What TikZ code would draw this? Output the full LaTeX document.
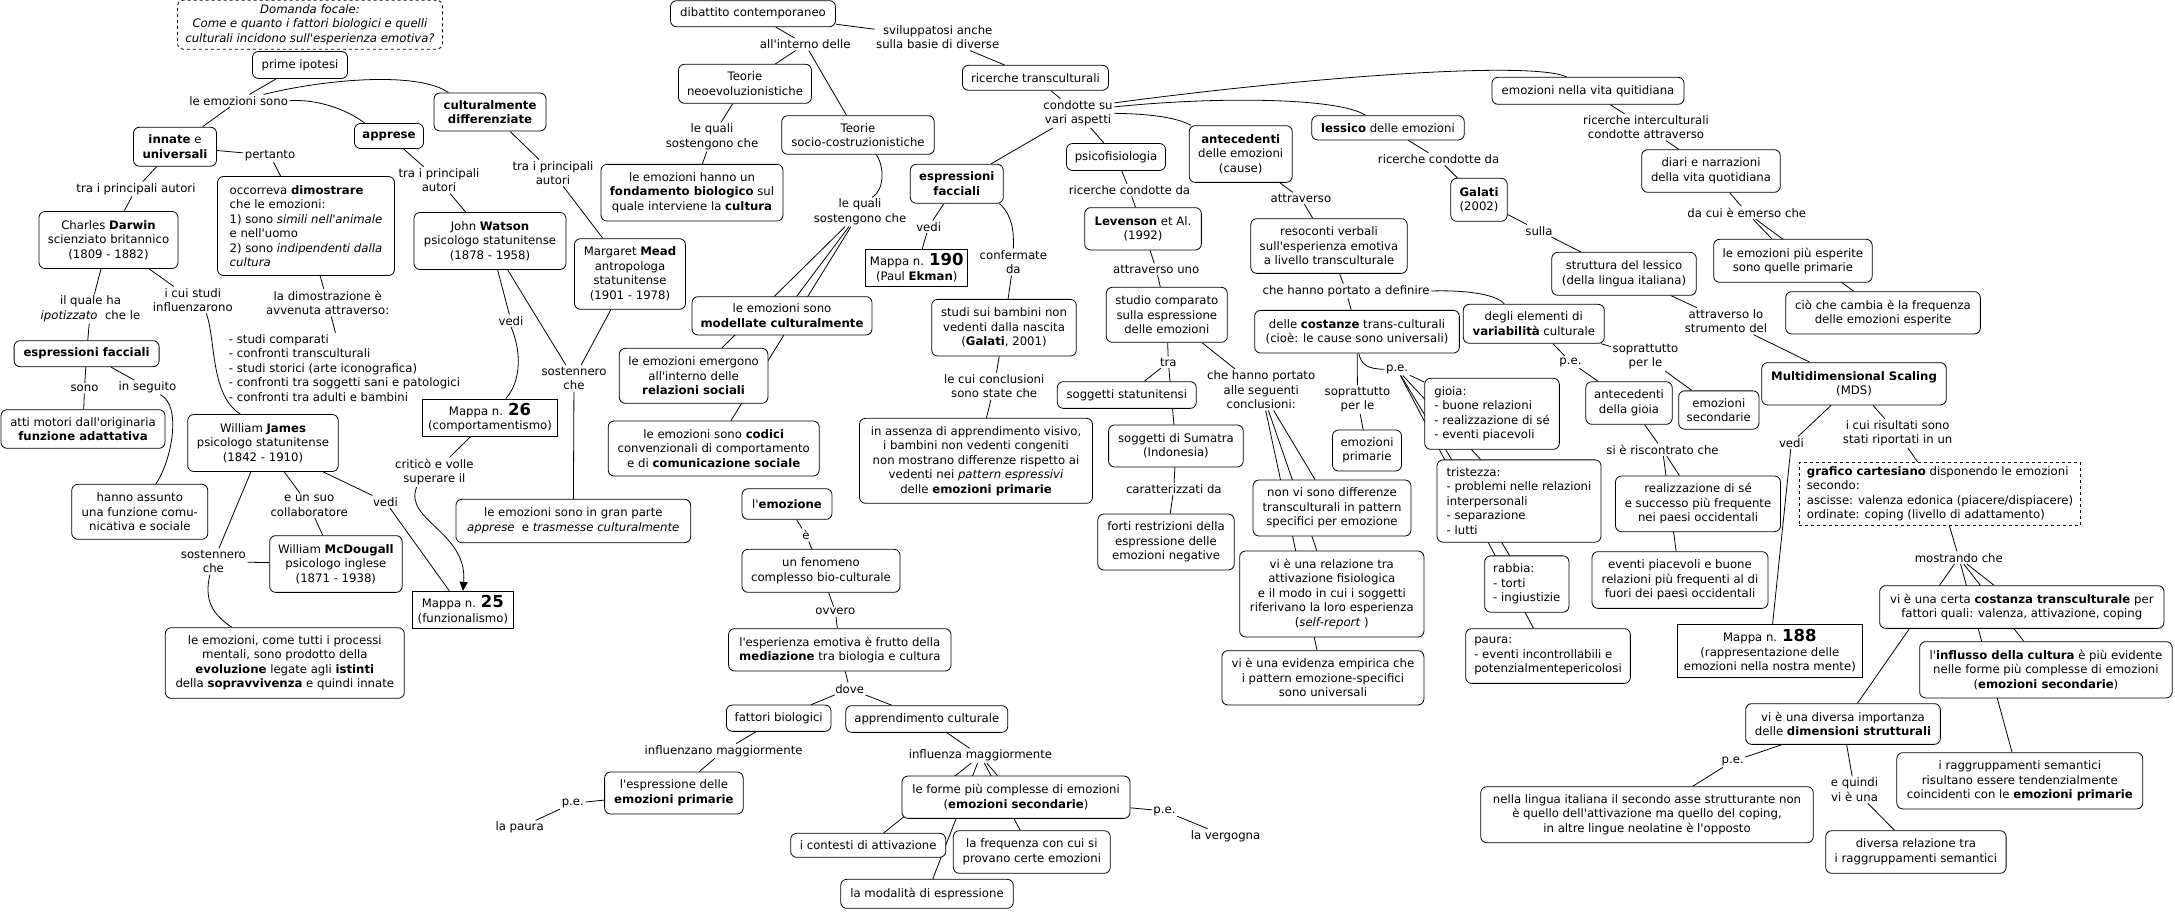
\documentclass[tikz,border=0pt]{standalone}
\usepackage{fontspec}
\setmainfont{DejaVu Sans}[Ligatures=TeXOff]
\usetikzlibrary{arrows.meta}
\pgfdeclarelayer{bgfill}
\pgfdeclarelayer{edges}
\pgfsetlayers{bgfill,edges,main}
\newcommand{\mapnum}[1]{{\fontsize{16.5}{14.5}\selectfont\bfseries #1}}
\tikzset{
  fnt/.style={font=\fontsize{11.7}{14.5}\selectfont},
  itl/.style={font=\fontsize{11.7}{14.5}\selectfont\itshape},
  sz/.style 2 args={minimum width=#1pt, minimum height=#2pt},
  cpt/.style={draw, rounded corners=6pt, fill=white, align=center, inner xsep=3pt, inner ysep=2pt, line width=0.8pt},
  cptl/.style={cpt, align=left},
  mapbox/.style={draw, fill=white, align=center, inner xsep=3pt, inner ysep=2pt, line width=0.8pt},
  lab/.style={align=center, inner xsep=1.5pt, inner ysep=1.5pt},
}
\begin{document}
\begin{tikzpicture}[x=1pt,y=-1pt,fnt]
\useasboundingbox (0,0) rectangle (2175,911);
\begin{pgfonlayer}{bgfill}
\fill[white] (0,0) rectangle (2175,911);
\end{pgfonlayer}

% ---------------- left cluster
\node[cpt,dashed,itl,sz={265}{49}] (domanda) at (310,24.7) {Domanda focale:\\Come e quanto i fattori biologici e quelli\\culturali incidono sull'esperienza emotiva?};
\node[cpt,sz={95}{27}] (prime) at (300,65) {prime ipotesi};
\node[lab] (Lsono) at (238.6,100.7) {le emozioni sono};
\node[cpt,sz={83}{39}] (innate) at (175,146.7) {\textbf{innate} e\\\textbf{universali}};
\node[cpt,sz={69}{25}] (apprese) at (389,136) {\textbf{apprese}};
\node[cpt,sz={112}{38}] (cultdiff) at (490,112) {\textbf{culturalmente}\\\textbf{differenziate}};
\node[lab] (Lpertanto) at (270,155.3) {pertanto};
\node[lab] (Ltra1) at (136,189) {tra i principali autori};
\node[lab] (Ltra2) at (439,180.3) {tra i principali\\autori};
\node[lab] (Ltra3) at (553,173) {tra i principali\\autori};
\node[cptl,sz={177}{99}] (occorreva) at (306,226) {occorreva \textbf{dimostrare}\\che le emozioni:\\1) sono \textit{simili nell'animale}\\e nell'uomo\\2) sono \textit{indipendenti dalla}\\\textit{cultura}};
\node[cpt,sz={139}{57}] (darwin) at (108.5,240) {Charles \textbf{Darwin}\\scienziato britannico\\(1809 - 1882)};
\node[cpt,sz={152}{57}] (watson) at (490,241) {John \textbf{Watson}\\psicologo statunitense\\(1878 - 1958)};
\node[cpt,sz={111}{70.6}] (mead) at (630,274) {Margaret \textbf{Mead}\\antropologa\\statunitense\\(1901 - 1978)};
\node[lab] (Lilquale) at (90.5,309) {il quale ha\\\textit{ipotizzato}~ che le};
\node[lab] (Licui) at (192.8,300) {i cui studi\\influenzarono};
\node[lab] (Ldimostr) at (327.7,302.7) {la dimostrazione è\\avvenuta attraverso:};
\node[lab,align=left] (list) at (344.5,368) {- studi comparati\\- confronti transculturali\\- studi storici (arte iconografica)\\- confronti tra soggetti sani e patologici\\- confronti tra adulti e bambini};
\node[cpt,sz={145}{26}] (espf1) at (86.6,353.7) {\textbf{espressioni facciali}};
\node[lab] (Lsono2) at (84.5,388.3) {sono};
\node[lab] (Linseguito) at (147.5,387.3) {in seguito};
\node[cpt,sz={164}{38.6}] (atti) at (83,429) {atti motori dall'originaria\\\textbf{funzione adattativa}};
\node[lab] (Lvedi1) at (511,320.7) {vedi};
\node[lab] (Lsost1) at (574,378.3) {sostennero\\che};
\node[mapbox,sz={135}{37}] (mappa26) at (490,417.5) {Mappa n. \mapnum{26}\\(comportamentismo)};
\node[cpt,sz={150.5}{57}] (james) at (263,443) {William \textbf{James}\\psicologo statunitense\\(1842 - 1910)};
\node[cpt,sz={136}{55}] (hanno) at (139.8,511.8) {hanno assunto\\una funzione comu-\\nicativa e sociale};
\node[lab] (Lcollab) at (309.2,505.8) {e un suo\\collaboratore};
\node[lab] (Lvedi2) at (385.4,501.7) {vedi};
\node[lab] (Lcritico) at (434.4,472.2) {criticò e volle\\superare il};
\node[lab] (Lsost2) at (213.4,561.5) {sostennero\\che};
\node[cpt,sz={132.5}{56.7}] (mcdougall) at (335.9,564) {William \textbf{McDougall}\\psicologo inglese\\(1871 - 1938)};
\node[mapbox,sz={100.7}{37}] (mappa25) at (462.9,609.8) {Mappa n. \mapnum{25}\\(funzionalismo)};
\node[cpt,sz={239}{70.6}] (evoluz) at (284.8,663) {le emozioni, come tutti i processi\\mentali, sono prodotto della\\\textbf{evoluzione} legate agli \textbf{istinti}\\della \textbf{sopravvivenza} e quindi innate};
\node[cpt,sz={234.7}{43.4}] (inparte) at (573.3,521) {le emozioni sono in gran parte\\\textit{apprese}~ e \textit{trasmesse culturalmente}};
\node[lab] (paurat) at (519.6,827.7) {la paura};

% ---------------- middle cluster
\node[cpt,sz={165}{26}] (dibattito) at (753,13.7) {dibattito contemporaneo};
\node[lab] (Lallint) at (805.2,44.3) {all'interno delle};
\node[lab] (Lsvil) at (937.7,37.2) {sviluppatosi anche\\sulla basie di diverse};
\node[cpt,sz={133}{39}] (neo) at (745,83.8) {Teorie\\neoevoluzionistiche};
\node[cpt,sz={152.5}{38.6}] (socio) at (858,135) {Teorie\\socio-costruzionistiche};
\node[cpt,sz={146}{25}] (rictrans) at (1035.5,77.8) {ricerche transculturali};
\node[lab] (Lquali1) at (712,137) {le quali\\sostengono che};
\node[cpt,sz={182}{56.7}] (fondamento) at (692,192.7) {le emozioni hanno un\\\textbf{fondamento biologico} sul\\quale interviene la \textbf{cultura}};
\node[lab] (Lquali2) at (860,212) {le quali\\sostengono che};
\node[cpt,sz={180}{38.3}] (modellate) at (782,315.8) {le emozioni sono\\\textbf{modellate culturalmente}};
\node[cpt,sz={148.6}{55}] (emergono) at (693.6,375.8) {le emozioni emergono\\all'interno delle\\\textbf{relazioni sociali}};
\node[cpt,sz={211}{55}] (codici) at (713.7,448.5) {le emozioni sono \textbf{codici}\\convenzionali di comportamento\\e di \textbf{comunicazione sociale}};
\node[lab] (Lcondotte) at (1078,113.3) {condotte su\\vari aspetti};
\node[cpt,sz={93}{39}] (espf2) at (956.8,183.8) {\textbf{espressioni}\\\textbf{facciali}};
\node[lab] (Lvedi3) at (928.7,226.7) {vedi};
\node[mapbox,sz={102}{36.7}] (mappa190) at (916.7,267.7) {Mappa n. \mapnum{190}\\(Paul \textbf{Ekman})};
\node[lab] (Lconf) at (1013.3,262.2) {confermate\\da};
\node[cpt,sz={144.6}{56.7}] (bambini) at (1004,327.7) {studi sui bambini non\\vedenti dalla nascita\\(\textbf{Galati}, 2001)};
\node[lab] (Lcui) at (994.2,386.2) {le cui conclusioni\\sono state che};
\node[cpt,sz={233}{85}] (assenza) at (976,460.8) {in assenza di apprendimento visivo,\\i bambini non vedenti congeniti\\non mostrano differenze rispetto ai\\vedenti nei \textit{pattern espressivi}\\delle \textbf{emozioni primarie}};
\node[cpt,sz={99}{27}] (psico) at (1116,157) {psicofisiologia};
\node[lab] (Lric1) at (1129.5,190) {ricerche condotte da};
\node[cpt,sz={116.7}{42.3}] (levenson) at (1143,228.8) {\textbf{Levenson} et Al.\\(1992)};
\node[lab] (Lattuno) at (1156.2,269.3) {attraverso uno};
\node[cpt,sz={121}{55}] (studio) at (1166.8,314.8) {studio comparato\\sulla espressione\\delle emozioni};
\node[lab] (Ltra4) at (1168.3,362.3) {tra};
\node[cpt,sz={139}{26.7}] (statunitensi) at (1126.8,395) {soggetti statunitensi};
\node[cpt,sz={134.6}{42}] (sumatra) at (1175.9,446) {soggetti di Sumatra\\(Indonesia)};
\node[lab] (Lcaratt) at (1173.8,489) {caratterizzati da};
\node[cpt,sz={136.4}{56}] (forti) at (1166,542) {forti restrizioni della\\espressione delle\\emozioni negative};
\node[lab] (Lchehanno) at (1261.2,389.7) {che hanno portato\\alle seguenti\\conclusioni:};

% ---------------- lower middle
\node[cpt,sz={90}{30.6}] (emozione) at (787,504) {l'\textbf{emozione}};
\node[lab] (Le) at (806,535) {è};
\node[cpt,sz={158}{43}] (fenomeno) at (821,570.8) {un fenomeno\\complesso bio-culturale};
\node[lab] (Lovvero) at (835.4,611.7) {ovvero};
\node[cpt,sz={222.5}{42.3}] (esperienza) at (839.8,649.8) {l'esperienza emotiva è frutto della\\\textbf{mediazione} tra biologia e cultura};
\node[lab] (Ldove) at (849.6,688.7) {dove};
\node[cpt,sz={104.6}{26.3}] (fattori) at (778.7,718.2) {fattori biologici};
\node[cpt,sz={162}{26.7}] (apprend) at (926.8,719) {apprendimento culturale};
\node[lab] (Linfluenzano) at (723.6,751) {influenzano maggiormente};
\node[lab] (Linfluenza) at (980.4,755.7) {influenza maggiormente};
\node[cpt,sz={138.6}{42}] (espressione) at (673.9,793) {l'espressione delle\\\textbf{emozioni primarie}};
\node[lab] (Lpe4) at (572.8,803.3) {p.e.};
\node[cpt,sz={228}{42.3}] (forme) at (1016,797.2) {le forme più complesse di emozioni\\(\textbf{emozioni secondarie})};
\node[lab] (Lpe5) at (1164.5,811) {p.e.};
\node[lab] (vergogna) at (1225.5,836) {la vergogna};
\node[cpt,sz={155}{24}] (contesti) at (868.2,845.3) {i contesti di attivazione};
\node[cpt,sz={157}{42.6}] (frequenza) at (1031.8,852) {la frequenza con cui si\\provano certe emozioni};
\node[cpt,sz={172.5}{29}] (modalita) at (927,893.8) {la modalità di espressione};

% ---------------- right-middle cluster
\node[cpt,sz={103}{56.7}] (antecedenti) at (1240.7,154) {\textbf{antecedenti}\\delle emozioni\\(cause)};
\node[cpt,sz={152.5}{24.3}] (lessico) at (1388,127.8) {\textbf{lessico} delle emozioni};
\node[cpt,sz={192}{27}] (emozvita) at (1588,90.8) {emozioni nella vita quitidiana};
\node[lab] (Lric2) at (1438.6,159) {ricerche condotte da};
\node[cpt,sz={56.4}{43}] (galati) at (1479,199.8) {\textbf{Galati}\\(2002)};
\node[lab] (Lattrav) at (1300.9,198.3) {attraverso};
\node[cpt,sz={156.4}{54.7}] (resoconti) at (1329,246) {resoconti verbali\\sull'esperienza emotiva\\a livello transculturale};
\node[lab] (Lsulla) at (1539,230.7) {sulla};
\node[cpt,sz={144.4}{43}] (struttura) at (1624,273.8) {struttura del lessico\\(della lingua italiana)};
\node[lab] (Ldefinire) at (1346.1,291) {che hanno portato a definire};
\node[cpt,sz={204.7}{42.7}] (costanze) at (1357,331.7) {delle \textbf{costanze} trans-culturali\\(cioè: le cause sono universali)};
\node[cpt,sz={141}{39}] (variab) at (1533.8,323.8) {degli elementi di\\\textbf{variabilità} culturale};
\node[lab] (Lpe1) at (1397.1,369.3) {p.e.};
\node[lab] (Lsopr1) at (1357.5,399.7) {soprattutto\\per le};
\node[cpt,sz={69}{41}] (emoprim) at (1367,450.5) {emozioni\\primarie};
\node[cptl,sz={134.7}{71}] (gioia) at (1492,413.8) {gioia:\\- buone relazioni\\- realizzazione di sé\\- eventi piacevoli};
\node[cptl,sz={164}{82.3}] (tristezza) at (1519,501) {tristezza:\\- problemi nelle relazioni\\interpersonali\\- separazione\\- lutti};
\node[cptl,sz={84.3}{56.3}] (rabbia) at (1526.8,584) {rabbia:\\- torti\\- ingiustizie};
\node[cptl,sz={164.7}{54.7}] (paura) at (1548,656) {paura:\\- eventi incontrollabili e\\potenzialmentepericolosi};
\node[cpt,sz={158}{56}] (nonvi) at (1332,508) {non vi sono differenze\\transculturali in pattern\\specifici per emozione};
\node[cpt,sz={184.3}{86}] (relazione) at (1331.8,594) {vi è una relazione tra\\attivazione fisiologica\\e il modo in cui i soggetti\\riferivano la loro esperienza\\(\textit{self-report} )};
\node[cpt,sz={202}{54.3}] (evidenza) at (1322.9,677.8) {vi è una evidenza empirica che\\i pattern emozione-specifici\\sono universali};
\node[lab] (Lpe2) at (1570.5,362) {p.e.};
\node[lab] (Lsopr2) at (1645.5,356.8) {soprattutto\\per le};
\node[cpt,sz={86.4}{42.6}] (antgioia) at (1629,403) {antecedenti\\della gioia};
\node[cpt,sz={80.3}{38.3}] (emosec) at (1718.8,410) {emozioni\\secondarie};
\node[lab] (Lrisc) at (1662.5,449.7) {si è riscontrato che};
\node[cpt,sz={165}{55.7}] (realizz) at (1698,503.8) {realizzazione di sé\\e successo più frequente\\nei paesi occidentali};
\node[cpt,sz={176}{56.7}] (eventi) at (1680,580) {eventi piacevoli e buone\\relazioni più frequenti al di\\fuori dei paesi occidentali};

% ---------------- right cluster
\node[lab] (Lricint) at (1646,127.2) {ricerche interculturali\\condotte attraverso};
\node[cpt,sz={138.6}{42.6}] (diari) at (1711,171) {diari e narrazioni\\della vita quotidiana};
\node[lab] (Lemerso) at (1746.8,212.7) {da cui è emerso che};
\node[cpt,sz={158.5}{43}] (piuesp) at (1792.9,260.8) {le emozioni più esperite\\sono quelle primarie};
\node[cpt,sz={194.7}{42.3}] (ciocambia) at (1883,312.8) {ciò che cambia è la frequenza\\delle emozioni esperite};
\node[lab] (Lattrlo) at (1726,321.2) {attraverso lo\\strumento del};
\node[cpt,sz={184.6}{42.3}] (mds) at (1854,383.8) {\textbf{Multidimensional Scaling}\\(MDS)};
\node[lab] (Lrisult) at (1897.6,433.3) {i cui risultati sono\\stati riportati in un};
\node[lab] (Lvedi4) at (1791.4,442.7) {vedi};
\node[cptl,dashed,rounded corners=0pt,sz={281.4}{62.7}] (grafico) at (1940,494) {\textbf{grafico cartesiano} disponendo le emozioni\\secondo:\\ascisse: valenza edonica (piacere/dispiacere)\\ordinate: coping (livello di adattamento)};
\node[lab] (Lmostr) at (1958.8,557.7) {mostrando che};
\node[cpt,sz={284.3}{42.7}] (costanza) at (2021.8,607) {vi è una certa \textbf{costanza transculturale} per\\fattori quali: valenza, attivazione, coping};
\node[mapbox,sz={184.6}{53}] (mappa188) at (1769.8,650.8) {Mappa n. \mapnum{188}\\(rappresentazione delle\\emozioni nella nostra mente)};
\node[cpt,sz={252.5}{56.3}] (influsso) at (2045.9,669.8) {l'\textbf{influsso della cultura} è più evidente\\nelle forme più complesse di emozioni\\(\textbf{emozioni secondarie})};
\node[cpt,sz={194.7}{40.7}] (diversaimp) at (1843,724) {vi è una diversa importanza\\delle \textbf{dimensioni strutturali}};
\node[cpt,sz={246}{56.3}] (raggrupp) at (2019.8,780.8) {i raggruppamenti semantici\\risultano essere tendenzialmente\\coincidenti con le \textbf{emozioni primarie}};
\node[lab] (Lpe3) at (1732.7,761.3) {p.e.};
\node[lab] (Lequindi) at (1854.5,789.8) {e quindi\\vi è una};
\node[cpt,sz={332.5}{56}] (nellalingua) at (1647,814.7) {nella lingua italiana il secondo asse strutturante non\\è quello dell'attivazione ma quello del coping,\\in altre lingue neolatine è l'opposto};
\node[cpt,sz={180.4}{42.6}] (diversarel) at (1915.9,852) {diversa relazione tra\\i raggruppamenti semantici};

% ---------------- connectors
\begin{pgfonlayer}{edges}
\begin{scope}[line width=0.8pt]
\draw (prime) -- (Lsono);
\draw (Lsono) -- (innate);
\draw (Lsono.east) .. controls (315,99) and (345,108) .. (apprese.152);
\draw (Lsono.14) .. controls (330,78) and (420,72) .. (cultdiff.155);
\draw (innate) -- (Lpertanto); \draw (Lpertanto) -- (occorreva);
\draw (innate) -- (Ltra1); \draw (Ltra1) -- (darwin);
\draw (apprese) -- (Ltra2); \draw (Ltra2) -- (watson);
\draw (cultdiff) -- (Ltra3); \draw (Ltra3) -- (mead);
\draw (darwin) -- (Lilquale); \draw (Lilquale) -- (espf1);
\draw (darwin) -- (Licui);
\draw (Licui.-45) .. controls (216,340) and (210,395) .. (james.128);
\draw (occorreva) -- (Ldimostr); \draw (Ldimostr) -- (list);
\draw (espf1) -- (Lsono2); \draw (Lsono2) -- (atti);
\draw (espf1) -- (Linseguito);
\draw (Linseguito.-30) .. controls (182,405) and (172,460) .. (hanno.60);
\draw (watson) -- (Lvedi1);
\draw (Lvedi1.south) .. controls (521,350) and (522,380) .. (mappa26.50);
\draw (watson) -- (Lsost1); \draw (mead) -- (Lsost1); \draw (Lsost1) -- (inparte);
\draw (mappa26) -- (Lcritico);
\draw[-{Triangle[length=9pt,width=8pt]}] (Lcritico.220) .. controls (403,520) and (468,532) .. (mappa25.north);
\draw (james) -- (Lcollab); \draw (Lcollab) -- (mcdougall);
\draw (james) -- (Lvedi2); \draw (Lvedi2) -- (mappa25);
\draw (james) -- (Lsost2); \draw (mcdougall) -- (Lsost2);
\draw (Lsost2.-105) .. controls (204,600) and (212,614) .. (evoluz.146);

\draw (dibattito) -- (Lallint); \draw (Lallint) -- (neo); \draw (Lallint) -- (socio);
\draw (dibattito) -- (Lsvil); \draw (Lsvil) -- (rictrans);
\draw (neo) -- (Lquali1); \draw (Lquali1) -- (fondamento);
\draw (socio.-47) .. controls (885,168) and (884,190) .. (Lquali2.50);
\draw (Lquali2) -- (modellate); \draw (Lquali2) -- (emergono); \draw (Lquali2) -- (codici);
\draw (rictrans) -- (Lcondotte);
\draw (Lcondotte) -- (espf2); \draw (Lcondotte) -- (psico);
\draw (Lcondotte.east) .. controls (1150,114) and (1175,117) .. (antecedenti.150);
\draw (Lcondotte.10) .. controls (1220,96) and (1340,98) .. (lessico.151);
\draw (Lcondotte.16) .. controls (1300,78) and (1530,60) .. (emozvita.147);
\draw (espf2) -- (Lvedi3); \draw (Lvedi3) -- (mappa190);
\draw (espf2.-25) .. controls (1012,215) and (1014,230) .. (Lconf.north);
\draw (Lconf) -- (bambini);
\draw (bambini) -- (Lcui); \draw (Lcui) -- (assenza);
\draw (psico) -- (Lric1); \draw (Lric1) -- (levenson);
\draw (levenson) -- (Lattuno); \draw (Lattuno) -- (studio);
\draw (studio) -- (Ltra4); \draw (Ltra4) -- (statunitensi); \draw (Ltra4) -- (sumatra);
\draw (sumatra) -- (Lcaratt); \draw (Lcaratt) -- (forti);
\draw (studio) -- (Lchehanno);
\draw (Lchehanno) -- (nonvi); \draw (Lchehanno) -- (relazione); \draw (Lchehanno) -- (evidenza);
\draw (antecedenti) -- (Lattrav); \draw (Lattrav) -- (resoconti);
\draw (resoconti) -- (Ldefinire); \draw (Ldefinire) -- (costanze);
\draw (Ldefinire.east) .. controls (1460,290) and (1495,293) .. (variab.146);
\draw (costanze.-85) .. controls (1361,365) and (1368,369) .. (Lpe1.west);
\draw (Lpe1) -- (gioia); \draw (Lpe1) -- (tristezza); \draw (Lpe1) -- (rabbia); \draw (Lpe1) -- (paura);
\draw (costanze) -- (Lsopr1); \draw (Lsopr1) -- (emoprim);
\draw (variab) -- (Lpe2); \draw (Lpe2) -- (antgioia);
\draw (variab) -- (Lsopr2); \draw (Lsopr2) -- (emosec);
\draw (antgioia) -- (Lrisc); \draw (Lrisc) -- (realizz); \draw (Lrisc) -- (eventi);
\draw (lessico) -- (Lric2); \draw (Lric2) -- (galati);
\draw (galati) -- (Lsulla); \draw (Lsulla) -- (struttura);
\draw (struttura) -- (Lattrlo); \draw (Lattrlo) -- (mds);
\draw (emozvita) -- (Lricint); \draw (Lricint) -- (diari);
\draw (diari) -- (Lemerso); \draw (Lemerso) -- (piuesp); \draw (Lemerso) -- (ciocambia);
\draw (mds) -- (Lvedi4); \draw (Lvedi4) -- (mappa188);
\draw (mds) -- (Lrisult); \draw (Lrisult) -- (grafico);
\draw (grafico) -- (Lmostr);
\draw (Lmostr) -- (costanza); \draw (Lmostr) -- (influsso); \draw (Lmostr) -- (raggrupp); \draw (Lmostr) -- (diversaimp);
\draw (diversaimp) -- (Lpe3); \draw (Lpe3) -- (nellalingua);
\draw (diversaimp) -- (Lequindi); \draw (Lequindi) -- (diversarel);

\draw (emozione) -- (Le); \draw (Le) -- (fenomeno);
\draw (fenomeno) -- (Lovvero); \draw (Lovvero) -- (esperienza);
\draw (esperienza) -- (Ldove); \draw (Ldove) -- (fattori); \draw (Ldove) -- (apprend);
\draw (fattori) -- (Linfluenzano); \draw (Linfluenzano) -- (espressione);
\draw (espressione) -- (Lpe4); \draw (Lpe4) -- (paurat);
\draw (apprend) -- (Linfluenza);
\draw (Linfluenza) -- (forme); \draw (Linfluenza) -- (contesti); \draw (Linfluenza) -- (frequenza); \draw (Linfluenza) -- (modalita);
\draw (forme) -- (Lpe5); \draw (Lpe5) -- (vergogna);
\end{scope}
\end{pgfonlayer}
\end{tikzpicture}
\end{document}
